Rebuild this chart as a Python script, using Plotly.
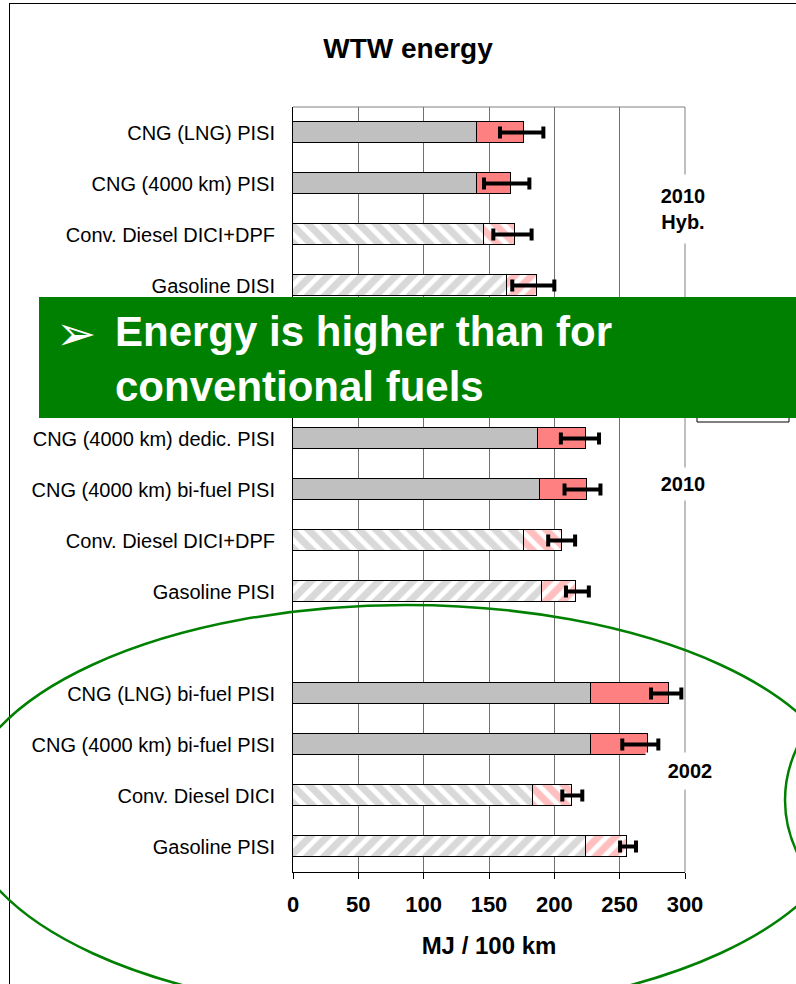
import plotly.graph_objects as go

# rows top -> bottom; None marks an empty slot
labels = [
    "CNG (LNG) PISI", "CNG (4000 km) PISI", "Conv. Diesel DICI+DPF", "Gasoline DISI",
    None, None,
    "CNG (4000 km) dedic. PISI", "CNG (4000 km) bi-fuel PISI", "Conv. Diesel DICI+DPF", "Gasoline PISI",
    None,
    "CNG (LNG) bi-fuel PISI", "CNG (4000 km) bi-fuel PISI", "Conv. Diesel DICI", "Gasoline PISI",
]
kinds = ["cng", "cng", "diesel", "gasoline", None, None,
         "cng", "cng", "diesel", "gasoline", None,
         "cng", "cng", "diesel", "gasoline"]
ttw = [140.6, 140.6, 146.4, 163.5, None, None,
       187.5, 188.7, 176.7, 190.3, None,
       227.8, 227.8, 183.9, 224.2]
wtt = [36.2, 26.5, 23.2, 23.0, None, None,
       37.0, 36.5, 29.1, 26.4, None,
       59.9, 43.9, 29.4, 31.7]
err_lo = [158.4, 146.2, 153.3, 167.8, None, None,
          205.0, 207.8, 195.3, 208.9, None,
          274.0, 252.0, 206.1, 250.3]
err_hi = [191.6, 180.9, 182.6, 200.0, None, None,
          234.2, 235.3, 215.9, 226.4, None,
          297.2, 279.6, 221.4, 262.5]

x_ticks = [0, 50, 100, 150, 200, 250, 300]

FONT = "Liberation Sans, Arial, sans-serif"
GREEN = "#008000"
RED = "#ff8080"
GREY = "#c0c0c0"

# plot area in pixels (796 x 984 page)
L, R, T, B = 293, 685, 107, 872


def px(x):
    return (x - L) / (R - L)


def py(y):
    return (B - y) / (B - T)


def rows(kind):
    return [i for i, k in enumerate(kinds) if k == kind]


def hatch(shape, col):
    return dict(color="white", pattern=dict(shape=shape, fgcolor=col, bgcolor="white",
                                            size=12, solidity=0.6))


STYLE = {
    "cng": (dict(color=GREY), dict(color=RED)),
    "diesel": (hatch("\\", "#b4b4b4"), hatch("\\", RED)),
    "gasoline": (hatch("/", "#b4b4b4"), hatch("/", RED)),
}

fig = go.Figure()
for kind, (m_base, m_top) in STYLE.items():
    idx = rows(kind)
    fig.add_trace(go.Bar(
        y=idx, x=[ttw[i] for i in idx], orientation="h", width=0.41,
        marker=dict(**m_base, line=dict(color="black", width=1)),
        showlegend=False, hoverinfo="skip",
    ))
    fig.add_trace(go.Bar(
        y=idx, x=[wtt[i] for i in idx], orientation="h", width=0.41,
        marker=dict(**m_top, line=dict(color="black", width=1)),
        showlegend=False, hoverinfo="skip",
    ))

idx = [i for i, k in enumerate(kinds) if k]
tot = [ttw[i] + wtt[i] for i in idx]
fig.add_trace(go.Scatter(
    y=idx, x=tot, mode="markers",
    marker=dict(size=1, color="rgba(0,0,0,0)"),
    error_x=dict(type="data", symmetric=False,
                 array=[err_hi[i] - t for i, t in zip(idx, tot)],
                 arrayminus=[t - err_lo[i] for i, t in zip(idx, tot)],
                 color="black", thickness=4, width=6),
    showlegend=False, hoverinfo="skip",
))

shapes = [
    # plot frame top / right (grey)
    dict(type="line", xref="paper", yref="paper", x0=0, x1=1, y0=1, y1=1, line=dict(color="#808080", width=1)),
    dict(type="line", xref="paper", yref="paper", x0=1, x1=1, y0=0, y1=1, line=dict(color="#808080", width=1)),
    # slide border
    dict(type="line", xref="paper", yref="paper", x0=px(9.5), x1=px(9.5), y0=py(3), y1=py(990),
         line=dict(color="black", width=1)),
    dict(type="line", xref="paper", yref="paper", x0=px(9), x1=px(800), y0=py(3.5), y1=py(3.5),
         line=dict(color="black", width=1)),
    # legend box peeking out under the banner
    dict(type="rect", xref="paper", yref="paper", x0=px(697), x1=px(789), y0=py(422), y1=py(380),
         fillcolor="white", line=dict(color="black", width=1)),
    # green banner
    dict(type="rect", xref="paper", yref="paper", x0=px(39), x1=px(810), y0=py(418), y1=py(297),
         fillcolor=GREEN, line=dict(width=0)),
    # ellipses
    dict(type="circle", xref="paper", yref="paper", x0=px(-37.5), x1=px(850.5), y0=py(1013), y1=py(605),
         line=dict(color=GREEN, width=2.5)),
    dict(type="circle", xref="paper", yref="paper", x0=px(785), x1=px(1475), y0=py(1000), y1=py(600),
         line=dict(color=GREEN, width=2.5)),
]


def label(text, x, y, w, h):
    return dict(text=f"<b>{text}</b>", x=px(x), y=py(y), xref="paper", yref="paper",
                xanchor="center", yanchor="middle", showarrow=False, width=w, height=h,
                font=dict(size=20, color="black"), bgcolor="white", borderpad=0)


annotations = [
    label("2010<br>Hyb.", 683, 209, 70, 68),
    label("2010", 683, 484, 70, 32),
    label("2002", 690, 771, 88, 36),
    dict(text="➢", x=px(76), y=py(333), xref="paper", yref="paper",
         xanchor="center", yanchor="middle",
         showarrow=False, font=dict(size=48, color="white", family="DejaVu Sans")),
    dict(text="<b>Energy is higher than for<br>conventional fuels</b>", x=px(113), y=py(359),
         xref="paper", yref="paper", xanchor="left", yanchor="middle", align="left",
         showarrow=False, font=dict(size=42, color="white")),
]

fig.update_layout(
    width=796, height=984,
    margin=dict(l=L, r=796 - R, t=T, b=984 - B),
    barmode="stack",
    bargap=0,
    title=dict(text="<b>WTW energy</b>", x=408 / 796, xanchor="center", xref="container",
               y=1 - 48 / 984, yanchor="middle", yref="container",
               font=dict(size=28, color="black")),
    xaxis=dict(
        range=[0, 300], tickvals=x_ticks, showgrid=True, gridcolor="#707070", gridwidth=1,
        zeroline=False, showline=True, linecolor="black", linewidth=1,
        ticks="outside", ticklen=6, tickcolor="black",
        tickfont=dict(size=22, color="black", weight="bold"), ticklabelstandoff=7,
        title=dict(text="<b>MJ / 100 km</b>", font=dict(size=24, color="black"), standoff=20),
    ),
    yaxis=dict(
        range=[len(labels) - 0.5, -0.5],
        tickvals=[i for i, l in enumerate(labels) if l],
        ticktext=[l for l in labels if l],
        showgrid=False, zeroline=False, showline=True, linecolor="black", linewidth=1,
        ticks="", ticklabelstandoff=13, tickfont=dict(size=20, color="black"),
    ),
    shapes=shapes,
    annotations=annotations,
    font=dict(family=FONT, color="black"),
    plot_bgcolor="white", paper_bgcolor="white",
)

# page body has a default 8px margin; drop it so the figure sits at the window origin
fig.write_html("out.html", config={"displayModeBar": False},
               post_script="document.body.style.margin='0px';")
